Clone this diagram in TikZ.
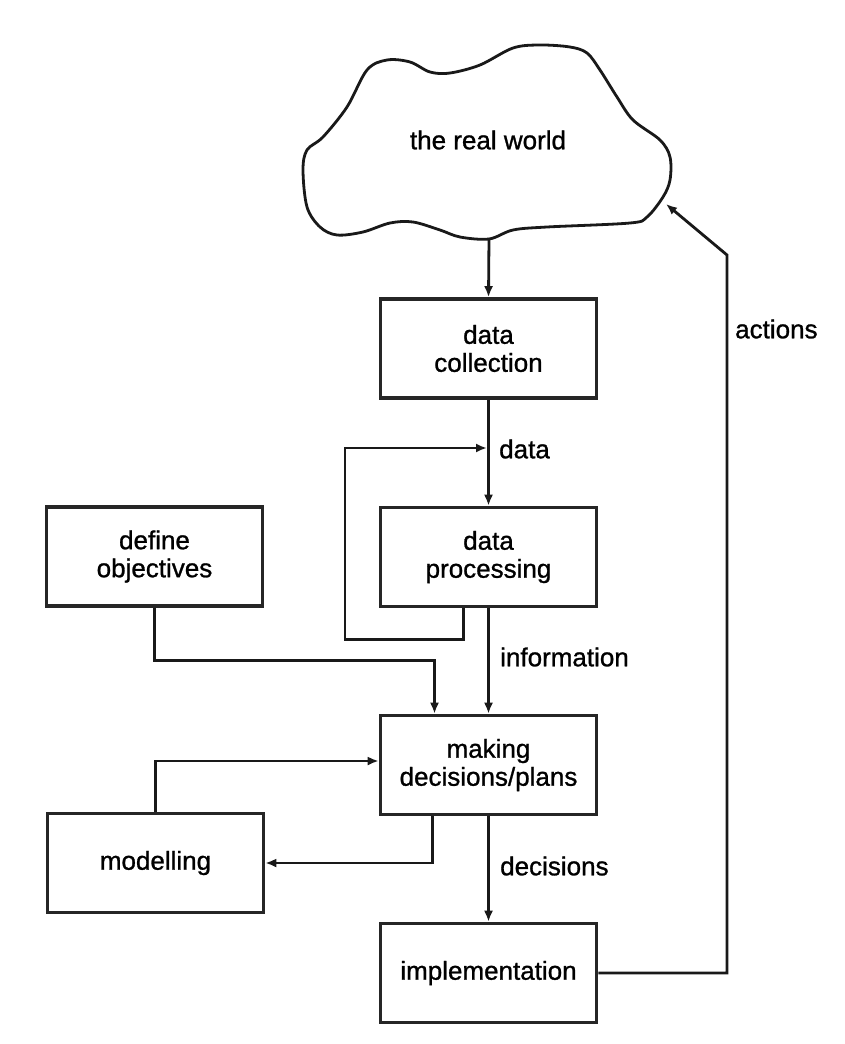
\documentclass[tikz,border=0pt]{standalone}
\usepackage{fontspec}
\setmainfont{Liberation Sans}[FakeBold=1]
\usetikzlibrary{arrows.meta}
\begin{document}
\begin{tikzpicture}[x=1pt,y=-1pt,
  box/.style={draw=black!85,line width=3.6pt,minimum width=216pt,minimum height=99pt,
    align=center,inner sep=0pt,font=\fontsize{26}{28}\selectfont},
  lbl/.style={anchor=west,inner sep=0pt,font=\fontsize{26}{28}\selectfont},
  arr/.style={draw=black!90,line width=2.8pt,-{Latex[length=11pt,width=9pt]}}]
\useasboundingbox (0,0) rectangle (844,1044);
% cloud
\draw[line width=2.8pt,black!90] plot[smooth cycle,tension=0.55] coordinates{
 (303,170) (307,150) (323,137) (347,107) (367,70) (387,60) (410,62) (430,72) (450,73)
 (480,65) (513,48) (540,45) (570,47) (587,53) (600,70) (617,97) (633,120) (660,140)
 (670,157) (670,180) (663,197) (647,217) (630,223) (547,227) (513,230) (489,239)
 (460,237) (440,230) (413,222) (390,223) (363,232) (337,235) (320,227) (307,207)};
\node[font=\fontsize{26}{28}\selectfont] (world) at (488,140) {the real world};
\coordinate (cloudbot) at (489,238);
\coordinate (cloudin) at (666,204);
\coordinate (actcorner) at (727,255);
% boxes
\node[box] (dc) at (488.5,348.5) {data\\collection};
\node[box] (dp) at (488.5,557) {data\\processing};
\node[box] (dobj) at (154.5,556.5) {define\\objectives};
\node[box] (md) at (488.5,765) {making\\decisions/plans};
\node[box] (mod) at (155.5,863) {modelling};
\node[box] (impl) at (488.5,973) {implementation};
% connectors
\draw[arr] (cloudbot) -- (dc.north);
\draw[arr] (dc.south) -- (dp.north);
\node[lbl] (ldata) at (499,449) {data};
\coordinate (fbtip) at (487,448);
\draw[arr] ([xshift=-25pt]dp.south) -- ++(0,31) -| (345,448) -- (fbtip);
\draw[arr] (dp.south) -- (md.north);
\node[lbl] (linfo) at (500,657) {information};
\draw[arr] (dobj.south) -- ++(0,53) -| ([xshift=-54pt]md.north);
\draw[arr] (mod.north) |- ([yshift=4pt]md.west);
\draw[arr] ([xshift=-56pt]md.south) |- (mod.east);
\draw[arr] (md.south) -- (impl.north);
\node[lbl] (ldec) at (500,866) {decisions};
\draw[arr] (impl.east) -| (actcorner) -- (cloudin);
\node[lbl] (lact) at (735,329) {actions};
\end{tikzpicture}
\end{document}
